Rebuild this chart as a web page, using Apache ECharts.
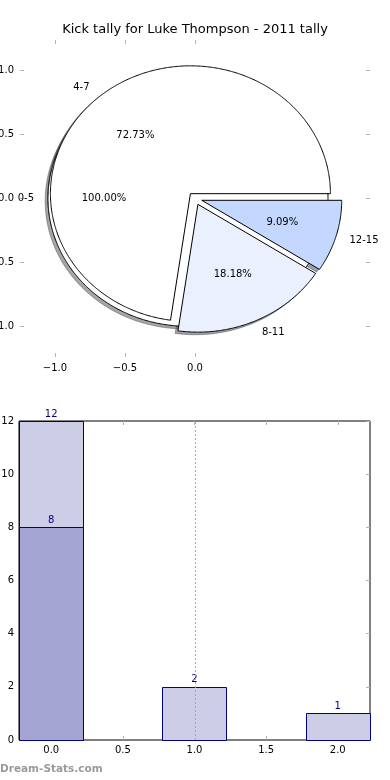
<!DOCTYPE html>
<html><head><meta charset="utf-8">
<script src="https://cdn.jsdelivr.net/npm/echarts@6/dist/echarts.min.js"></script>
<style>html,body{margin:0;padding:0;background:#fff}#c{width:390px;height:780px}</style>
</head><body><div id="c"></div>
<script>
// ---- data ----
const titleText = 'Kick tally for Luke Thompson - 2011 tally';
const outerLabels = ['0-5'];
const outerValues = [11];
const innerLabels = ['4-7', '8-11', '12-15'];
const innerValues = [8, 2, 1];
const barX = [0, 1, 2];
const barTotals = [12, 2, 1];
const barInnerX = [0];
const barInnerValues = [8];
const pieXTicks = [-1, -0.5, 0];
const pieYTicks = [-1, -0.5, 0, 0.5, 1];
const barXTicks = [0, 0.5, 1, 1.5, 2];
const barYTicks = [0, 2, 4, 6, 8, 10, 12];
const gridLineX = [1];
const watermark = 'Dream-Stats.com';

// ---- style ----
const outerColors = ['#ffffff'];
const innerColors = ['#ffffff', '#eaf0fe', '#c4d7fe'];
const explode = 0.05;
const shadowOff = -0.02;
const barWidth = 0.45;
const barLight = '#cdcde6', barDark = '#a4a5d3', barEdge = '#000080';
const FONT = '"DejaVu Sans", sans-serif';
const tickColor = '#b4b4b4';

function wedgesOf(labels, values, colors, expl) {
  const total = values.reduce((a, b) => a + b, 0);
  let acc = 0;
  return values.map((v, i) => {
    const t1 = 360 * acc / total; acc += v; const t2 = 360 * acc / total;
    const tm = (t1 + t2) / 2 * Math.PI / 180;
    return {label: labels[i], pct: (100 * v / total).toFixed(2) + '%', t1, t2, tm,
      cx: expl * Math.cos(tm), cy: expl * Math.sin(tm), color: colors[i], full: (t2 - t1) >= 359.999};
  });
}
const wedges = wedgesOf(outerLabels, outerValues, outerColors, explode)
  .concat(wedgesOf(innerLabels, innerValues, innerColors, explode));

function wedgePoints(api, w, dx, dy) {
  const pts = [];
  if (!w.full) pts.push(api.coord([w.cx + dx, w.cy + dy]));
  const n = Math.max(8, Math.ceil((w.t2 - w.t1) * 2));
  for (let k = 0; k <= n; k++) {
    const t = (w.t1 + (w.t2 - w.t1) * k / n) * Math.PI / 180;
    pts.push(api.coord([w.cx + dx + Math.cos(t), w.cy + dy + Math.sin(t)]));
  }
  return pts;
}
function shadowColor(hex) {
  const r = parseInt(hex.slice(1, 3), 16), g = parseInt(hex.slice(3, 5), 16), b = parseInt(hex.slice(5, 7), 16);
  return 'rgba(' + Math.round(r * .3) + ',' + Math.round(g * .3) + ',' + Math.round(b * .3) + ',0.5)';
}
const fmt = v => v.toFixed(1).replace('-', '\u2212');
const wedgeData = wedges.map(w => [w.cx, w.cy]);

const tk = vals => ({show: true, inside: true, length: 4, customValues: vals, lineStyle: {color: tickColor, width: 1}});
function tickAxis(extra) {
  return Object.assign({
    type: 'value', splitLine: {show: false},
    axisLine: {show: true, onZero: false, lineStyle: {color: '#fff', opacity: 0}},
    axisLabel: {show: false}
  }, extra);
}
const lbl = (vals, extra) => Object.assign({show: true, customValues: vals, formatter: fmt, color: '#000', fontSize: 10, fontFamily: FONT}, extra || {});

const option = {
  animation: false,
  backgroundColor: '#fff',
  title: {text: titleText, left: 'center', top: 23, padding: 0,
    textStyle: {fontSize: 13, fontWeight: 'normal', fontFamily: FONT, color: '#000'}},
  graphic: [{type: 'text', left: 0, top: 764, style: {text: watermark, fill: '#9a9a9a', font: 'bold 10.5px ' + FONT}}],
  grid: [
    {left: 20, top: 40, width: 350, height: 317, show: false, containLabel: false, outerBoundsMode: 'none'},
    {left: 19, top: 421, width: 351, height: 319, show: true, borderColor: '#000', borderWidth: 1, backgroundColor: 'transparent', containLabel: false, outerBoundsMode: 'none'}
  ],
  xAxis: [
    tickAxis({gridIndex: 0, position: 'bottom', min: -1.25, max: 1.25, axisTick: tk(pieXTicks), axisLabel: lbl(pieXTicks, {margin: 6})}),
    tickAxis({gridIndex: 0, position: 'top', min: -1.25, max: 1.25, axisTick: tk(pieXTicks)}),
    tickAxis({gridIndex: 1, position: 'bottom', min: -0.225, max: 2.225, axisTick: tk(barXTicks), axisLabel: lbl(barXTicks, {margin: 5})}),
    tickAxis({gridIndex: 1, position: 'top', min: -0.225, max: 2.225, axisTick: tk(barXTicks)})
  ],
  yAxis: [
    tickAxis({gridIndex: 0, position: 'left', min: -1.24, max: 1.24, axisTick: tk(pieYTicks), axisLabel: lbl(pieYTicks, {margin: 6})}),
    tickAxis({gridIndex: 0, position: 'right', min: -1.24, max: 1.24, axisTick: tk(pieYTicks)}),
    tickAxis({gridIndex: 1, position: 'left', min: 0, max: 12, interval: 2, axisTick: tk(barYTicks),
      axisLabel: {show: true, customValues: barYTicks, color: '#000', fontSize: 10, fontFamily: FONT, margin: 5}}),
    tickAxis({gridIndex: 1, position: 'right', min: 0, max: 12, interval: 2, axisTick: tk(barYTicks)})
  ],
  series: [
    {type: 'custom', name: 'shadows', coordinateSystem: 'cartesian2d', xAxisIndex: 0, yAxisIndex: 0, z: 1, silent: true,
      data: wedgeData,
      renderItem: (params, api) => {
        const w = wedges[params.dataIndex];
        const c = shadowColor(w.color);
        return {type: 'polygon', shape: {points: wedgePoints(api, w, shadowOff, shadowOff)}, style: {fill: c, stroke: c, lineWidth: 1}};
      }},
    {type: 'custom', name: 'wedges', coordinateSystem: 'cartesian2d', xAxisIndex: 0, yAxisIndex: 0, z: 2, silent: true,
      data: wedgeData,
      renderItem: (params, api) => {
        const w = wedges[params.dataIndex];
        return {type: 'polygon', shape: {points: wedgePoints(api, w, 0, 0)}, style: {fill: w.color, stroke: '#000', lineWidth: 1}};
      }},
    {type: 'custom', name: 'pieLabels', coordinateSystem: 'cartesian2d', xAxisIndex: 0, yAxisIndex: 0, z: 3, silent: true,
      data: wedgeData,
      renderItem: (params, api) => {
        const w = wedges[params.dataIndex];
        const xt = w.cx + 1.1 * Math.cos(w.tm), yt = w.cy + 1.1 * Math.sin(w.tm);
        const xp = w.cx + 0.6 * Math.cos(w.tm), yp = w.cy + 0.6 * Math.sin(w.tm);
        const pl = api.coord([xt, yt]), pp = api.coord([xp, yp]);
        const al = xt > 0 ? 'left' : 'right';
        return {type: 'group', children: [
          {type: 'text', x: pl[0], y: pl[1], style: {text: w.label, textAlign: al, textVerticalAlign: 'middle', align: al, verticalAlign: 'middle', fill: '#000', font: '10px ' + FONT}},
          {type: 'text', x: pp[0], y: pp[1], style: {text: w.pct, textAlign: 'center', textVerticalAlign: 'middle', align: 'center', verticalAlign: 'middle', fill: '#000', font: '10px ' + FONT}}
        ]};
      }},
    {type: 'custom', name: 'totals', coordinateSystem: 'cartesian2d', xAxisIndex: 2, yAxisIndex: 2, z: 2, silent: true,
      data: barX.map((x, i) => [x, barTotals[i]]),
      renderItem: (params, api) => {
        const x = api.value(0), v = api.value(1);
        const p0 = api.coord([x - barWidth / 2, 0]), p1 = api.coord([x + barWidth / 2, v]);
        return {type: 'group', children: [
          {type: 'rect', shape: {x: Math.round(p0[0]) + 0.5, y: Math.round(p1[1]) + 0.5, width: Math.round(p1[0] - p0[0]), height: Math.round(p0[1] - p1[1])},
            style: {fill: barLight, stroke: barEdge, lineWidth: 1}},
          {type: 'text', x: (p0[0] + p1[0]) / 2, y: p1[1] - 2, style: {text: String(v), textAlign: 'center', textVerticalAlign: 'bottom', align: 'center', verticalAlign: 'bottom', fill: barEdge, font: '10px ' + FONT}}
        ]};
      }},
    {type: 'custom', name: 'inner', coordinateSystem: 'cartesian2d', xAxisIndex: 2, yAxisIndex: 2, z: 3, silent: true,
      data: barInnerX.map((x, i) => [x, barInnerValues[i]]),
      renderItem: (params, api) => {
        const x = api.value(0), v = api.value(1);
        const p0 = api.coord([x - barWidth / 2, 0]), p1 = api.coord([x + barWidth / 2, v]);
        return {type: 'group', children: [
          {type: 'rect', shape: {x: Math.round(p0[0]) + 0.5, y: Math.round(p1[1]) + 0.5, width: Math.round(p1[0] - p0[0]), height: Math.round(p0[1] - p1[1])},
            style: {fill: barDark, stroke: barEdge, lineWidth: 1}},
          {type: 'text', x: (p0[0] + p1[0]) / 2, y: p1[1] - 2, style: {text: String(v), textAlign: 'center', textVerticalAlign: 'bottom', align: 'center', verticalAlign: 'bottom', fill: barEdge, font: '10px ' + FONT}}
        ]};
      }},
    {type: 'custom', name: 'gridline', coordinateSystem: 'cartesian2d', xAxisIndex: 2, yAxisIndex: 2, z: 4, silent: true,
      data: gridLineX.map(x => [x, 0]),
      renderItem: (params, api) => {
        const x = api.value(0);
        const a = api.coord([x, 0]), b = api.coord([x, 12]);
        const px = Math.round(a[0]) + 0.5;
        return {type: 'line', shape: {x1: px, y1: a[1], x2: px, y2: b[1]}, style: {stroke: '#a8a8a8', lineWidth: 1, lineDash: [2, 2]}};
      }}
  ]
};
const chart = echarts.init(document.getElementById('c'), null, {renderer: 'canvas'});
chart.setOption(option);
</script>
</body></html>
